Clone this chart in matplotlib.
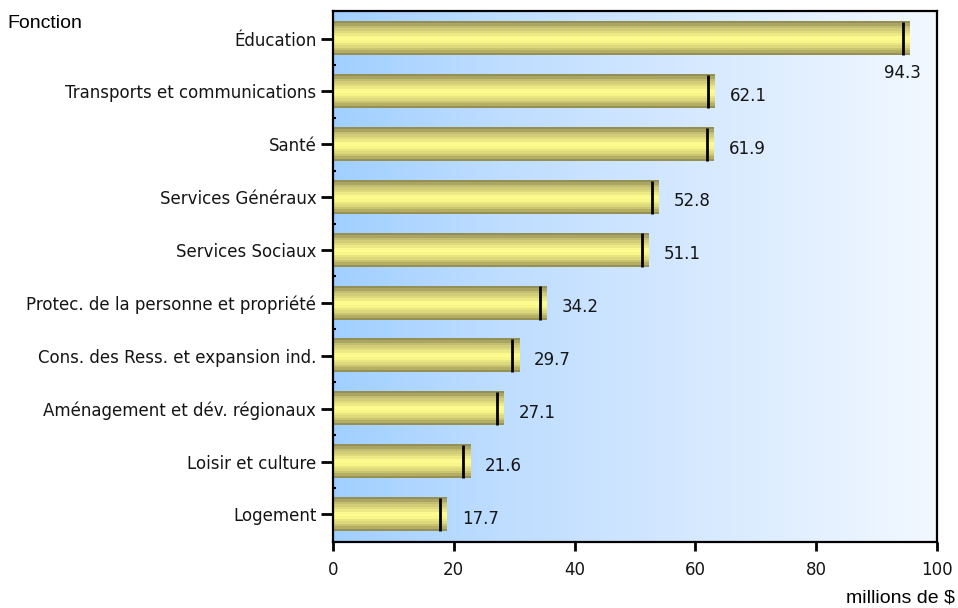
import numpy as np
import matplotlib.pyplot as plt
from matplotlib.colors import LinearSegmentedColormap, ListedColormap

# Dépenses par fonction (millions de $)
fonctions = ["Éducation", "Transports et communications", "Santé",
             "Services Généraux", "Services Sociaux",
             "Protec. de la personne et propriété",
             "Cons. des Ress. et expansion ind.",
             "Aménagement et dév. régionaux", "Loisir et culture", "Logement"]
montants = [94.3, 62.1, 61.9, 52.8, 51.1, 34.2, 29.7, 27.1, 21.6, 17.7]
graduations = [0, 20, 40, 60, 80, 100]

n = len(fonctions)
pos = np.arange(n)
hauteur = 0.63
bout = 1.1  # the rounded end of each cylinder sticks out past the value
taille = 12

fig = plt.figure(figsize=(9.58, 6.08), dpi=100)
ax = fig.add_axes([0.3476, 0.1086, 0.6305, 0.8733])

# blue-to-white background
fond = LinearSegmentedColormap.from_list(
    "fond", [(0.0, "#a0cfff"), (0.25, "#bcdcff"), (0.55, "#d2e7ff"), (1.0, "#f2f8ff")])
ax.imshow(np.linspace(0, 1, 256)[None, :], cmap=fond, aspect="auto",
          extent=(0, 1, 0, 1), transform=ax.transAxes, zorder=0)

# banded olive/yellow shading across each bar
bandes = LinearSegmentedColormap.from_list(
    "bandes", [(0.0, "#948f55"), (0.15, "#c2bd70"), (0.32, "#e2dd80"),
               (0.48, "#fffe90"), (0.6, "#fbf98b"), (0.78, "#dad67a"),
               (0.92, "#b6b166"), (1.0, "#969052")])
bandes = ListedColormap(bandes(np.linspace(0, 1, 14)))
grad = np.linspace(0, 1, 14)[:, None]

for y, v in zip(pos, montants):
    ax.imshow(grad, cmap=bandes, aspect="auto", interpolation="nearest",
              extent=(0, v + bout, y + hauteur / 2, y - hauteur / 2), zorder=2)
    ax.vlines(v, y - hauteur / 2, y + hauteur / 2, color="black", lw=2, zorder=3)
    if v + 12 > 100:
        ax.text(v - 3.1, y + 0.65, f"{v:.1f}", va="center", ha="left",
                fontsize=taille, color="#151515", zorder=4)
    else:
        ax.text(v + bout + 2.5, y + 0.08, f"{v:.1f}", va="center", ha="left",
                fontsize=taille, color="#151515", zorder=4)

ax.set_xlim(0, 100)
ax.set_ylim(n - 0.48, -0.52)
ax.set_xticks(graduations)
ax.set_xticklabels([str(g) for g in graduations], fontsize=taille, color="#151515")
ax.set_yticks(pos)
ax.set_yticklabels(fonctions, fontsize=taille, color="#151515")
ax.set_yticks(pos[:-1] + 0.5, minor=True)

ax.tick_params(axis="y", which="major", length=9, width=2, pad=3)
ax.tick_params(axis="y", which="minor", length=2.5, width=1.5, direction="in")
ax.tick_params(axis="x", which="major", length=6.5, width=2, pad=7)
for s in ax.spines.values():
    s.set_linewidth(1.6)
    s.set_zorder(5)

fig.text(0.008, 1 - 23 / 608, "Fonction", family="Liberation Sans",
         fontsize=14, va="center", ha="left")
fig.text(0.997, 10 / 608, "millions de $", family="Liberation Sans",
         fontsize=14, va="center", ha="right")

fig.savefig("out.png", dpi=100, facecolor="white")
